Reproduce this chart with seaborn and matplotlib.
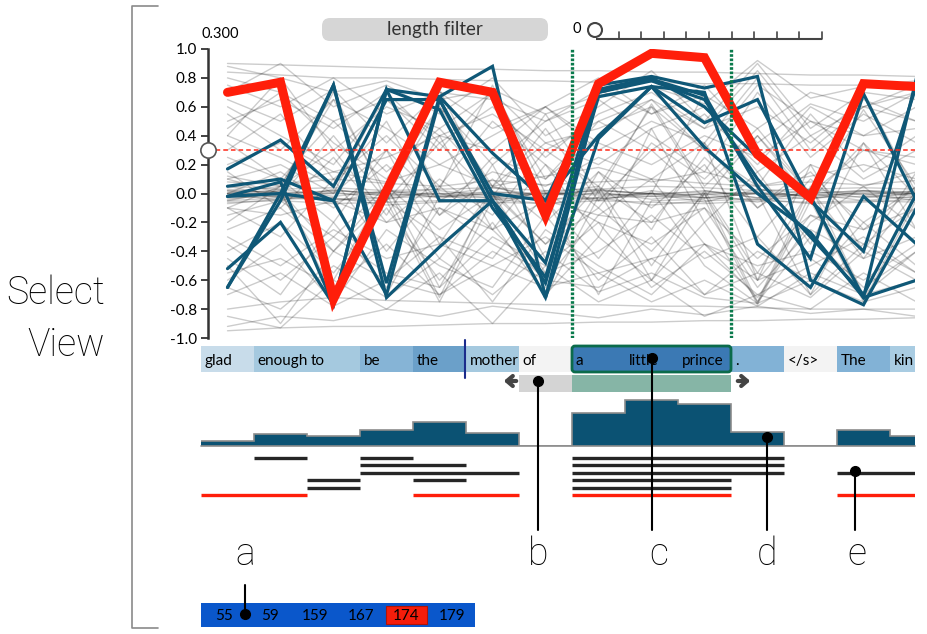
import numpy as np
import pandas as pd
import matplotlib
matplotlib.use("Agg")
import matplotlib.pyplot as plt
import seaborn as sns
from matplotlib.patches import FancyBboxPatch, Circle

# ---------------- data ----------------
words = ["glad", "enough", "to", "be", "the", "mother", "of", "a", "little",
         "prince", ".", "</s>", "The", "kin"]
word_colors = ["#c8dcea", "#a5c9df", "#a5c9df", "#86b4d6", "#6ba0c9", "#a5c9df",
               "#f3f3f3", "#3b79b4", "#3b79b4", "#3b79b4", "#82b2d6", "#f3f3f3",
               "#82b2d6", "#a9cce2"]
selected_range = (7, 9)          # "a little prince"
context_cell = 6                 # "of"

red_line = [0.70, 0.77, -0.73, 0.02, 0.77, 0.70, -0.15, 0.76, 0.97, 0.94, 0.27, -0.03, 0.76, 0.74]

blue_lines = [
    [0.17, 0.37, 0.05, 0.72, 0.67, 0.28, -0.05, 0.40, 0.74, 0.32, 0.00, -0.27, -0.72, 0.80],
    [-0.02, 0.08, -0.77, 0.72, -0.05, -0.05, -0.48, 0.75, 0.81, 0.73, 0.81, -0.60, -0.77, -0.10],
    [-0.65, 0.00, 0.75, -0.62, 0.67, 0.88, -0.72, 0.70, 0.79, 0.68, 0.05, -0.45, 0.69, -0.05],
    [-0.52, -0.20, -0.77, 0.72, 0.58, -0.10, -0.58, 0.67, 0.74, 0.49, 0.65, -0.05, -0.40, 0.75],
    [-0.65, -0.05, 0.75, -0.72, -0.37, -0.05, -0.72, 0.38, 0.74, 0.70, -0.35, -0.65, -0.02, -0.35],
    [0.05, 0.10, -0.05, -0.70, 0.65, -0.05, -0.62, 0.72, 0.80, 0.60, 0.25, -0.02, -0.72, -0.60],
    [-0.02, 0.00, -0.05, 0.65, 0.65, 0.00, -0.05, 0.70, 0.78, 0.65, 0.10, -0.30, -0.70, 0.00],
]

gray_lines = [
    [0.90, 0.89, 0.88, 0.87, 0.86, 0.86, 0.85, 0.85, 0.84, 0.84, 0.83, 0.82, 0.82, 0.81],
    [0.84, 0.82, 0.80, 0.80, 0.79, 0.78, 0.78, 0.77, 0.77, 0.76, 0.76, 0.75, 0.75, 0.74],
    [-0.95, -0.93, -0.92, -0.92, -0.91, -0.90, -0.90, -0.89, -0.89, -0.88, -0.88, -0.87, -0.87, -0.86],
    [-0.80, -0.75, -0.72, -0.74, -0.75, -0.76, -0.77, -0.77, -0.78, -0.78, -0.79, -0.80, -0.80, -0.80],
    [0.02, 0.01, 0.00, -0.01, 0.00, 0.01, 0.00, -0.01, 0.00, 0.01, 0.00, -0.01, 0.00, 0.00],
    [-0.03, -0.02, -0.04, -0.03, -0.02, -0.03, -0.04, -0.03, -0.02, -0.03, -0.04, -0.03, -0.02, -0.03],
    [0.05, 0.03, 0.04, 0.02, 0.03, 0.04, 0.02, 0.03, 0.05, 0.04, 0.02, 0.03, 0.04, 0.03],
    [-0.06, -0.05, -0.07, -0.06, -0.05, -0.06, -0.07, -0.05, -0.06, -0.07, -0.05, -0.06, -0.05, -0.06],
    [0.00, 0.05, 0.70, -0.05, 0.72, -0.02, 0.00, 0.05, 0.60, 0.02, -0.03, 0.00, 0.02, 0.01],
    [-0.02, 0.02, -0.70, 0.00, -0.72, 0.05, -0.05, -0.45, 0.02, -0.50, -0.76, 0.00, -0.05, -0.02],
    [0.60, 0.40, 0.20, 0.65, 0.30, 0.70, 0.10, 0.50, 0.30, 0.55, 0.20, 0.60, 0.40, 0.45],
    [-0.40, -0.20, -0.55, -0.10, -0.60, -0.20, -0.70, -0.30, -0.60, -0.20, -0.75, -0.30, -0.65, -0.40],
    [0.30, 0.55, 0.10, 0.40, 0.05, 0.50, 0.20, -0.10, 0.35, 0.10, 0.45, 0.00, 0.30, 0.20],
    [-0.60, -0.35, -0.75, -0.25, -0.50, -0.65, -0.15, -0.60, -0.30, -0.70, -0.40, -0.60, -0.20, -0.50],
    [0.45, 0.70, 0.35, 0.10, 0.60, 0.20, 0.50, 0.65, 0.40, 0.15, 0.70, 0.25, 0.55, 0.35],
    [-0.15, -0.05, -0.30, 0.05, -0.25, 0.00, -0.35, -0.10, -0.40, 0.00, -0.60, -0.15, -0.35, -0.10],
    [0.15, -0.10, 0.25, -0.20, 0.10, -0.15, 0.30, 0.05, -0.20, 0.25, -0.10, 0.15, -0.25, 0.05],
    [0.70, 0.90, 0.60, 0.75, 0.55, 0.80, 0.40, 0.60, 0.85, 0.50, 0.90, 0.45, 0.70, 0.65],
    [-0.85, -0.93, -0.60, -0.80, -0.55, -0.90, -0.50, -0.75, -0.60, -0.85, -0.70, -0.80, -0.55, -0.75],
    [0.10, 0.20, 0.00, 0.30, -0.05, 0.15, 0.05, 0.25, 0.10, 0.35, -0.10, 0.20, 0.05, 0.15],
    [-0.25, -0.10, -0.40, -0.05, -0.30, -0.45, 0.00, -0.20, -0.35, -0.10, -0.65, -0.25, -0.45, -0.30],
    [0.35, 0.10, 0.50, 0.15, 0.45, 0.05, 0.35, 0.20, 0.45, 0.60, 0.15, 0.40, 0.10, 0.30],
    [-0.45, -0.70, -0.20, -0.65, -0.10, -0.35, -0.55, -0.40, -0.15, -0.45, -0.30, -0.70, -0.35, -0.55],
    [0.55, 0.30, 0.65, 0.45, 0.20, 0.40, 0.60, 0.30, 0.50, 0.35, 0.80, 0.30, 0.60, 0.50],
    [0.00, -0.02, 0.00, 0.72, 0.00, -0.03, 0.00, 0.00, -0.02, 0.00, 0.00, -0.02, 0.70, 0.00],
    [-0.02, 0.00, -0.03, -0.70, -0.02, 0.00, -0.72, -0.02, 0.00, -0.03, 0.00, -0.70, -0.02, 0.00],
    [0.03, 0.00, 0.02, 0.00, 0.03, 0.75, 0.00, 0.02, 0.00, 0.70, 0.03, 0.00, 0.02, 0.00],
    [-0.05, -0.03, -0.04, -0.05, -0.75, -0.04, -0.03, -0.70, -0.05, -0.04, -0.77, -0.05, -0.75, -0.04],
    [0.20, 0.35, 0.15, 0.25, 0.40, 0.30, 0.60, 0.35, 0.20, 0.40, 0.25, 0.50, 0.30, 0.25],
    [-0.30, -0.50, -0.25, -0.45, -0.35, -0.50, -0.30, -0.55, -0.45, -0.35, -0.50, -0.40, -0.60, -0.35],
    [0.75, 0.60, 0.80, 0.55, 0.70, 0.65, 0.50, 0.72, 0.55, 0.68, 0.45, 0.70, 0.60, 0.75],
    [-0.70, -0.55, -0.78, -0.60, -0.70, -0.50, -0.65, -0.55, -0.75, -0.60, -0.78, -0.55, -0.70, -0.60],
    [0.05, -0.02, 0.40, -0.05, 0.35, -0.02, 0.45, -0.05, 0.30, -0.03, 0.40, -0.05, 0.35, -0.02],
    [-0.05, 0.02, -0.40, 0.03, -0.45, 0.02, -0.35, 0.05, -0.50, 0.02, -0.55, 0.03, -0.45, 0.02],
    [0.40, 0.25, 0.05, 0.50, -0.15, 0.25, 0.10, 0.40, 0.65, 0.30, 0.05, 0.55, 0.15, 0.40],
    [-0.10, -0.30, 0.10, -0.40, 0.05, -0.25, -0.60, -0.15, 0.10, -0.35, -0.72, -0.20, 0.05, -0.25],
    [0.88, 0.80, 0.70, 0.78, 0.65, 0.72, 0.55, 0.68, 0.74, 0.62, 0.92, 0.66, 0.74, 0.78],
    [-0.92, -0.85, -0.88, -0.80, -0.85, -0.78, -0.82, -0.86, -0.80, -0.84, -0.78, -0.83, -0.80, -0.85],
    [0.00, -0.05, 0.03, -0.02, 0.00, -0.08, 0.02, -0.04, 0.00, -0.06, 0.03, -0.03, 0.00, -0.05],
    [-0.04, 0.00, -0.06, 0.02, -0.03, 0.00, -0.05, 0.01, -0.04, 0.00, -0.06, 0.02, -0.03, 0.00],
    [0.01, -0.01, 0.02, 0.00, -0.02, 0.01, -0.01, 0.02, 0.00, -0.01, 0.01, -0.02, 0.01, 0.00],
    [-0.07, -0.04, -0.03, -0.08, -0.06, -0.04, -0.07, -0.03, -0.08, -0.05, -0.04, -0.07, -0.06, -0.04],
    [0.08, 0.06, 0.10, 0.07, 0.05, 0.09, 0.06, 0.08, 0.10, 0.07, 0.05, 0.08, 0.06, 0.09],
    [0.50, 0.65, 0.45, 0.70, 0.35, 0.60, 0.25, 0.55, 0.70, 0.45, 0.60, 0.35, 0.65, 0.50],
    [-0.55, -0.45, -0.65, -0.35, -0.70, -0.40, -0.60, -0.65, -0.45, -0.70, -0.55, -0.72, -0.40, -0.60],
    [0.10, 0.00, -0.60, 0.05, -0.65, 0.00, -0.55, 0.02, -0.60, 0.00, -0.75, 0.05, -0.70, 0.00],
    [-0.10, 0.05, 0.65, 0.00, 0.60, 0.05, 0.55, 0.00, 0.62, 0.05, 0.40, 0.00, 0.58, 0.05],
    [0.25, 0.10, -0.20, 0.30, -0.35, 0.20, -0.45, 0.15, -0.25, 0.35, -0.60, 0.20, -0.40, 0.15],
    [-0.20, 0.05, 0.30, -0.15, 0.40, -0.25, 0.20, -0.30, 0.45, -0.20, 0.15, -0.35, 0.35, -0.25],
    [0.65, 0.50, 0.72, 0.35, 0.70, 0.45, 0.60, 0.80, 0.55, 0.75, 0.35, 0.62, 0.50, 0.70],
    [-0.65, -0.80, -0.50, -0.72, -0.45, -0.70, -0.40, -0.68, -0.55, -0.72, -0.76, -0.60, -0.75, -0.65],
    [0.00, 0.15, -0.10, 0.20, -0.15, 0.10, -0.20, 0.15, -0.10, 0.20, -0.30, 0.10, -0.20, 0.05],
    [-0.10, -0.15, -0.05, -0.20, -0.10, -0.25, -0.05, -0.15, -0.20, -0.10, -0.45, -0.15, -0.25, -0.10],
    [0.12, 0.05, 0.15, 0.08, 0.20, 0.05, 0.12, 0.18, 0.08, 0.15, 0.05, 0.12, 0.20, 0.10],
    [-0.35, -0.60, -0.30, -0.55, -0.65, -0.30, -0.50, -0.20, -0.65, -0.40, -0.70, -0.50, -0.30, -0.55],
    [0.40, 0.80, 0.30, 0.60, 0.45, 0.70, 0.35, 0.45, 0.60, 0.30, 0.75, 0.50, 0.40, 0.60],
    [-0.50, -0.90, -0.40, -0.60, -0.30, -0.75, -0.25, -0.50, -0.70, -0.35, -0.60, -0.45, -0.70, -0.40],
    [0.02, -0.03, 0.01, -0.04, 0.02, -0.02, 0.01, -0.05, 0.02, -0.03, 0.00, -0.04, 0.02, -0.02],
    [-0.01, 0.03, -0.02, 0.02, -0.01, 0.04, -0.02, 0.03, -0.01, 0.02, -0.03, 0.03, -0.01, 0.02],
    [0.80, 0.70, 0.50, 0.65, 0.40, 0.55, 0.30, 0.50, 0.65, 0.45, 0.85, 0.40, 0.60, 0.70],
]

threshold = 0.3
y_ticks = [-1.0, -0.8, -0.6, -0.4, -0.2, 0.0, 0.2, 0.4, 0.6, 0.8, 1.0]

hist_values = [5, 12, 10, 16, 24, 13, 0, 33, 46, 42, 14, 0, 16, 10]

match_rows = [0, 0, 1, 2, 3, 3, 4, 5, 5, 0, 1, 2, 2, 3, 4, 5, 5]
match_start = [1, 3, 3, 3, 2, 4, 2, 0, 4, 7, 7, 7, 12, 7, 7, 7, 12]
match_end = [1, 3, 4, 5, 2, 4, 2, 1, 5, 10, 10, 10, 13, 9, 9, 9, 13]
match_red = [False, False, False, False, False, False, False, True, True,
             False, False, False, False, False, False, True, True]

cell_ids = ["55", "59", "159", "167", "174", "179"]
highlight_cell = "174"

# ---------------- style ----------------
sns.set_theme(style="white")
plt.rcParams["font.family"] = ["Lato", "DejaVu Sans"]
plt.rcParams["axes.unicode_minus"] = False
THIN = ["Roboto", "DejaVu Sans"]

W, H = 928, 634
fig = plt.figure(figsize=(W / 100, H / 100), dpi=100)


def px_axes(x0, y0, x1, y1):
    return fig.add_axes([x0 / W, 1 - y1 / H, (x1 - x0) / W, (y1 - y0) / H])


X0, STEP = 227.5, 53.0       # pixel position of column 0 and column spacing
x_right = (915 - X0) / STEP

# ---------------- main parallel coordinates ----------------
ax = px_axes(208, 49, 915, 338)
pos = np.arange(len(words))

gray_df = pd.DataFrame([(k, i, v) for k, row in enumerate(gray_lines) for i, v in enumerate(row)],
                       columns=["cell", "pos", "act"])
blue_df = pd.DataFrame([(k, i, v) for k, row in enumerate(blue_lines) for i, v in enumerate(row)],
                       columns=["cell", "pos", "act"])
red_df = pd.DataFrame({"pos": pos, "act": red_line, "cell": 0})

sns.lineplot(data=gray_df, x="pos", y="act", units="cell", estimator=None, color="black",
             alpha=0.2, lw=1, ax=ax, legend=False)
sns.lineplot(data=blue_df, x="pos", y="act", units="cell", estimator=None, color="#0f5877",
             lw=2.3, ax=ax, legend=False, solid_joinstyle="miter", zorder=4)
sns.lineplot(data=red_df, x="pos", y="act", units="cell", estimator=None, color="#ff1e0a",
             lw=6.5, ax=ax, legend=False, solid_joinstyle="miter", zorder=5)

ax.axhline(threshold, color="#ff2a1a", lw=1.1, ls=(0, (3, 2)), zorder=6)
for xv in (selected_range[0] - 0.5, selected_range[1] + 0.5):
    ax.axvline(xv, color="#0a7a4c", lw=2.4, ls=(0, (0.8, 0.5)), zorder=7)

ax.set_xlim((208 - X0) / STEP, x_right)
ax.set_ylim(-1.0, 1.0)
ax.set_yticks(y_ticks)
ax.set_yticklabels([f"{v:.1f}" for v in y_ticks], fontsize=11)
ax.set_xticks([])
ax.set_xlabel("")
ax.set_ylabel("")
for s in ("top", "right", "bottom"):
    ax.spines[s].set_visible(False)
ax.spines["left"].set_color("#333333")
ax.spines["left"].set_linewidth(1.8)
ax.tick_params(axis="y", left=True, length=5, width=1.3, color="#333333", pad=3, labelcolor="black")
ax.plot([(208 - X0) / STEP], [threshold], "o", ms=11, mfc="white", mec="#555555", mew=1.2,
        clip_on=False, zorder=10)

# ---------------- word strip ----------------
axw = px_axes(201, 346, 915, 372)
axw.bar(pos, [1] * len(words), width=1.0, color=word_colors, linewidth=0)
for i, w in enumerate(words):
    axw.text(i - 0.5 + 0.07, 0.42, w, ha="left", va="center", fontsize=11, color="black",
             clip_on=True)
axw.set_xlim(-0.5, x_right)
axw.set_ylim(0, 1)
axw.axis("off")

# ---------------- selection band ----------------
axs = px_axes(201, 375, 915, 392)
axs.bar([context_cell], [1], width=1.0, color="#d4d4d4", linewidth=0)
sel_center = (selected_range[0] + selected_range[1]) / 2
axs.bar([sel_center], [1], width=selected_range[1] - selected_range[0] + 1, color="#86b5a6",
        linewidth=0)
axs.set_xlim(-0.5, x_right)
axs.set_ylim(0, 1)
axs.axis("off")

# ---------------- histogram ----------------
axh = px_axes(201, 396, 915, 446)
edges = np.arange(len(words) + 1) - 0.5
axh.stairs(hist_values, edges, fill=True, color="#0b5273", linewidth=0)
axh.stairs(hist_values, edges, fill=False, color="#8c8c8c", linewidth=1.2, baseline=None)
axh.axhline(0, color="#8c8c8c", lw=1.2, clip_on=False)
axh.set_xlim(-0.5, x_right)
axh.set_ylim(0, 50)
axh.axis("off")

# ---------------- matches ----------------
axm = px_axes(201, 454, 915, 499)
for r, s0, e0, red in zip(match_rows, match_start, match_end, match_red):
    axm.hlines(r, s0 - 0.5, e0 + 0.5, colors="#ff1e0a" if red else "#262626", lw=2.4,
               capstyle="butt")
axm.set_xlim(-0.5, x_right)
axm.set_ylim(5.5, -0.5)
axm.axis("off")

# ---------------- cell id list ----------------
axc = px_axes(201, 603, 475, 627)
cpos = np.arange(len(cell_ids))
axc.bar(cpos, [1] * len(cell_ids), width=1.0, color="#0a57cb", linewidth=0)
hi = cell_ids.index(highlight_cell)
axc.bar([hi], [0.76], bottom=0.12, width=0.9, color="#f51d0b", edgecolor="#b01408", linewidth=0.8)
for i, c in enumerate(cell_ids):
    axc.text(i, 0.45, c, ha="center", va="center", fontsize=11, color="black")
axc.set_xlim(-0.5, len(cell_ids) - 0.5)
axc.set_ylim(0, 1)
axc.axis("off")

# ---------------- overlay decorations ----------------
ov = fig.add_axes([0, 0, 1, 1])
ov.set_xlim(0, W)
ov.set_ylim(H, 0)
ov.axis("off")

ov.plot([158, 132, 132, 158], [6, 6, 628, 628], color="#8a8a8a", lw=1.2)
ov.text(105, 293, "Select", ha="right", va="center", fontsize=27, family=THIN,
        fontweight="light", color="black")
ov.text(105, 345, "View", ha="right", va="center", fontsize=27, family=THIN,
        fontweight="light", color="black")

ov.add_patch(FancyBboxPatch((322, 18), 226, 23, boxstyle="round,pad=0,rounding_size=8",
                            fc="#d6d6d6", ec="none"))
ov.text(435, 29.5, "length filter", ha="center", va="center", fontsize=13.5, color="#333333")
ov.text(202, 34, f"{threshold:.3f}", ha="left", va="center", fontsize=10.5, color="black")

ov.text(577, 29, "0", ha="center", va="center", fontsize=10.5, color="black")
ov.plot([596, 822], [39, 39], color="#444444", lw=1.5, solid_capstyle="butt")
for k in range(1, 11):
    xk = 596 + k * 22.6
    ov.plot([xk, xk], [39, 32], color="#444444", lw=1.2)
ov.add_patch(Circle((595, 30), 7, fc="white", ec="#444444", lw=1.5, zorder=5))

ov.add_patch(FancyBboxPatch((572, 346), 159, 26, boxstyle="round,pad=0,rounding_size=3",
                            fc="none", ec="#0b6b4b", lw=2))
ov.plot([465, 465], [340, 378], color="#1b2c8c", lw=1.5)

ov.annotate("", xy=(501, 381), xytext=(519, 381),
            arrowprops=dict(arrowstyle="->,head_length=0.35,head_width=0.3", color="#444444", lw=3))
ov.annotate("", xy=(753, 381), xytext=(735, 381),
            arrowprops=dict(arrowstyle="->,head_length=0.35,head_width=0.3", color="#444444", lw=3))

pins = [(538, 381, 530), (652, 358, 530), (767, 437, 530), (855, 471, 530)]
for xp, y_dot, y_end in pins:
    ov.plot([xp, xp], [y_dot, y_end], color="black", lw=1.5)
    ov.plot([xp], [y_dot], "o", color="black", ms=7)
ov.plot([245, 245], [585, 614], color="black", lw=1.5)
ov.plot([245], [614], "o", color="black", ms=7)

for lab, xl in zip("abcde", [245, 538, 659, 767, 857]):
    ov.text(xl, 554, lab, ha="center", va="center", fontsize=27, family=THIN,
            fontweight="light", color="black")

fig.savefig("out.png", dpi=100, facecolor="white")
